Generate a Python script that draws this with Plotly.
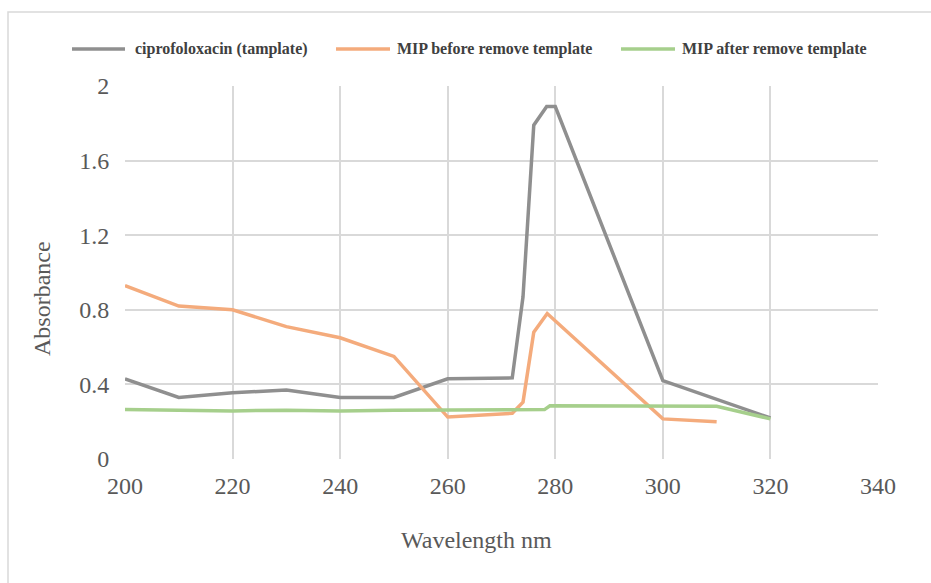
import plotly.graph_objects as go

# Wavelengths (nm) and absorbance readings for each sample
wl_cipro = [200, 210, 220, 230, 240, 250, 260, 272, 274, 276, 278.4, 280, 300, 320]
abs_cipro = [0.43, 0.33, 0.355, 0.37, 0.33, 0.33, 0.43, 0.435, 0.87, 1.79, 1.89, 1.89, 0.42, 0.22]

wl_before = [200, 210, 220, 230, 240, 250, 260, 272, 274, 276, 278.5, 300, 310]
abs_before = [0.93, 0.82, 0.80, 0.71, 0.65, 0.55, 0.225, 0.245, 0.305, 0.68, 0.78, 0.215, 0.20]

wl_after = [200, 210, 220, 230, 240, 250, 260, 272, 274, 276, 278, 279, 300, 310, 320]
abs_after = [0.265, 0.262, 0.258, 0.262, 0.257, 0.262, 0.263, 0.263, 0.263, 0.263, 0.265, 0.285, 0.285, 0.283, 0.215]

series_names = ["ciprofoloxacin (tamplate)", "MIP before remove template", "MIP after remove template"]
series_colors = ["#8f8f8f", "#f4ab7c", "#a6cf8c"]

y_ticks = [0, 0.4, 0.8, 1.2, 1.6, 2]
y_tick_text = ["0", "0.4", "0.8", "1.2", "1.6", "2"]

SERIF = "Liberation Serif, Times New Roman, serif"
TEXT_GREY = "#595959"

# Plot-area geometry in pixels, used to place the frame, titles and legend in paper units
L, R, T, B = 125, 878, 86, 459
W, H = R - L, B - T


def px_x(p):
    return (p - L) / W


def px_y(p):
    return (B - p) / H


fig = go.Figure()
for xs, ys, name, color in zip(
    [wl_cipro, wl_before, wl_after],
    [abs_cipro, abs_before, abs_after],
    series_names, series_colors,
):
    fig.add_trace(go.Scatter(
        x=xs, y=ys, mode="lines", name=name, showlegend=False,
        line=dict(color=color, width=3.5),
    ))

fig.update_layout(
    width=931, height=583,
    paper_bgcolor="white", plot_bgcolor="white",
    margin=dict(l=L, r=931 - R, t=T, b=583 - B),
    font=dict(family=SERIF, color=TEXT_GREY, size=24),
    xaxis=dict(
        range=[200, 340], tickvals=list(range(200, 341, 20)),
        showgrid=True, gridcolor="#d9d9d9", gridwidth=1.5,
        zeroline=False, showline=False, ticks="", ticklabelstandoff=10,
        tickfont=dict(size=24, color=TEXT_GREY),
    ),
    yaxis=dict(
        range=[0, 2], tickvals=y_ticks, ticktext=y_tick_text,
        showgrid=True, gridcolor="#d9d9d9", gridwidth=1.5,
        zeroline=False, showline=False,
        # invisible tick marks push the labels away from the plot edge
        ticks="outside", ticklen=10, tickcolor="rgba(0,0,0,0)",
        tickfont=dict(size=24, color=TEXT_GREY),
    ),
)

# Axis titles, centred on the whole chart area rather than the plot area
fig.add_annotation(
    xref="paper", yref="paper", x=px_x(476), y=px_y(540),
    xanchor="center", yanchor="middle", showarrow=False,
    text="Wavelength nm", font=dict(family=SERIF, size=24, color=TEXT_GREY),
)
fig.add_annotation(
    xref="paper", yref="paper", x=px_x(42), y=px_y(299),
    xanchor="center", yanchor="middle", showarrow=False, textangle=-90,
    text="Absorbance", font=dict(family=SERIF, size=24, color=TEXT_GREY),
)

# Outer chart frame (left and top edges visible)
fig.add_shape(
    type="rect", xref="paper", yref="paper",
    x0=px_x(8), x1=px_x(945), y0=px_y(600), y1=px_y(12),
    line=dict(color="#d9d9d9", width=1.5), layer="below",
)

# Legend row across the top: a line sample followed by the series name
legend_y = px_y(49)
legend_items = [(72, 125, 133), (336, 390, 395), (621, 675, 680)]
for (lx0, lx1, tx), name, color in zip(legend_items, series_names, series_colors):
    fig.add_shape(
        type="line", xref="paper", yref="paper",
        x0=px_x(lx0), x1=px_x(lx1), y0=legend_y, y1=legend_y,
        line=dict(color=color, width=3.5),
    )
    fig.add_annotation(
        xref="paper", yref="paper", x=px_x(tx), y=legend_y,
        xanchor="left", yanchor="middle", showarrow=False,
        text=f"<b>{name}</b>",
        font=dict(family=SERIF, size=16, color="#404040"),
    )

fig.write_html("out.html")
